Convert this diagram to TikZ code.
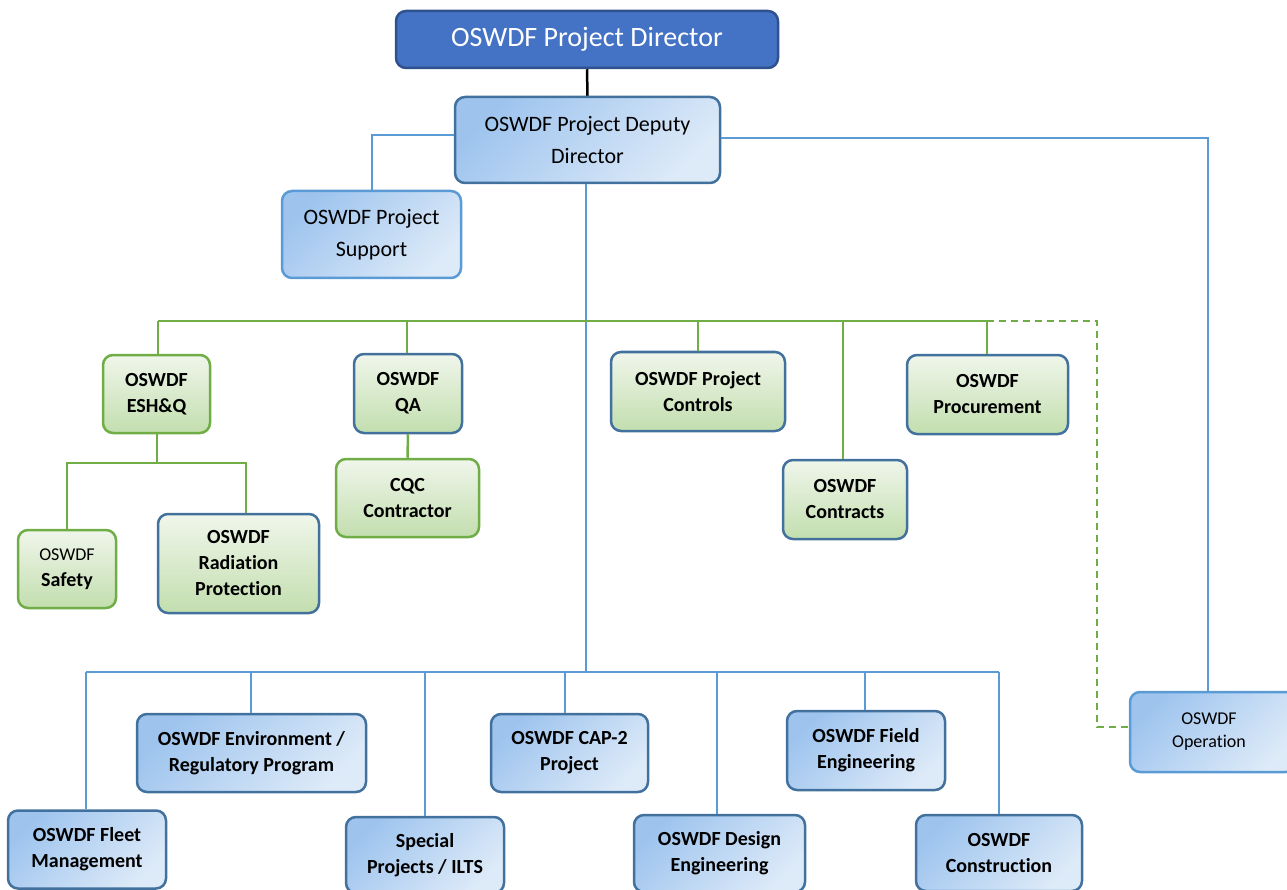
\documentclass[tikz,border=0pt]{standalone}
\usepackage{fontspec}
\setmainfont{Carlito}[Ligatures=NoCommon]
\definecolor{dirfill}{HTML}{4472C4}
\definecolor{dirline}{HTML}{2F528F}
\definecolor{bdark}{HTML}{41719C}
\definecolor{blight}{HTML}{5B9BD5}
\definecolor{bfillA}{HTML}{9EC4EE}
\definecolor{bfillB}{HTML}{DDEAF8}
\definecolor{gline}{HTML}{70AD47}
\definecolor{gfillA}{HTML}{F0F6EB}
\definecolor{gfillB}{HTML}{C2DEAE}
\tikzset{
  boxbase/.style={rounded corners=10pt, line width=2.5pt, align=center, inner sep=0pt, text=black,
    font=\bfseries\fontsize{20}{26}\selectfont},
  bluebox/.style={boxbase, draw=bdark, top color=bfillA, bottom color=bfillB, shading angle=45},
  lbluebox/.style={bluebox, draw=blight},
  greenbox/.style={boxbase, draw=gline, top color=gfillA, bottom color=gfillB},
  gbbox/.style={greenbox, draw=bdark},
  regtext/.style={font=\fontsize{22}{32}\selectfont},
  bl/.style={draw=blight, line width=2pt},
  gl/.style={draw=gline, line width=2.5pt},
}
\begin{document}
\begin{tikzpicture}[x=1pt,y=-1pt]
\useasboundingbox (0,0) rectangle (1287,890);
\clip (0,0) rectangle (1287,890);
% coordinates
\coordinate (gL) at (158,321);
\coordinate (gR) at (987,321);
\coordinate (dc) at (1097,321);
\coordinate (bL) at (86,672);
\coordinate (bR) at (999,672);
\coordinate (bM) at (586,672);
\coordinate (eb) at (157,463);
\coordinate (rc) at (1208,140);
% nodes
\node[boxbase, draw=dirline, fill=dirfill, text=white, font=\fontsize{28}{32}\selectfont,
  minimum width=382, minimum height=57] (dir) at (587,39.5) {OSWDF Project Director};
\node[bluebox, regtext, minimum width=265, minimum height=86] (dep) at (587.5,140) {OSWDF Project Deputy\\Director};
\node[lbluebox, regtext, minimum width=179, minimum height=87] (sup) at (371.5,234.5) {OSWDF Project\\Support};
\node[greenbox, minimum width=107, minimum height=78] (esh) at (156.5,394) {OSWDF\\ESH\&Q};
\node[gbbox, minimum width=108, minimum height=79] (qa) at (408,393.5) {OSWDF\\QA};
\node[greenbox, minimum width=143, minimum height=78] (cqc) at (407.5,498) {CQC\\Contractor};
\node[gbbox, minimum width=174, minimum height=79] (ctl) at (698,391.5) {OSWDF Project\\Controls};
\node[gbbox, minimum width=124, minimum height=79] (cnt) at (845,499.5) {OSWDF\\Contracts};
\node[gbbox, minimum width=161, minimum height=79] (prc) at (987.5,394.5) {OSWDF\\Procurement};
\node[greenbox, minimum width=98, minimum height=78] (saf) at (67,569) {{\mdseries\fontsize{18}{26}\selectfont OSWDF}\\Safety};
\node[gbbox, minimum width=161, minimum height=99] (rp) at (238.5,563.5) {OSWDF\\Radiation\\Protection};
\node[bluebox, minimum width=158, minimum height=78] (flt) at (87,849.5) {OSWDF Fleet\\Management};
\node[bluebox, minimum width=229, minimum height=78] (env) at (251.5,753) {OSWDF Environment /\\Regulatory Program};
\node[bluebox, minimum width=158, minimum height=76] (spc) at (425,855) {Special\\Projects / ILTS};
\node[bluebox, minimum width=157, minimum height=78] (cap) at (569.5,753) {OSWDF CAP-2\\Project};
\node[bluebox, minimum width=171, minimum height=77] (des) at (719.5,853.5) {OSWDF Design\\Engineering};
\node[bluebox, minimum width=158, minimum height=79] (fld) at (866,750.5) {OSWDF Field\\Engineering};
\node[bluebox, minimum width=166, minimum height=76] (con) at (999,853) {OSWDF\\Construction};
\node[lbluebox, font=\fontsize{18}{23}\selectfont, minimum width=166, minimum height=80] (ops) at (1213,732)
  {\hspace*{-8pt}OSWDF\\\hspace*{-8pt}Operation};
% connectors
\draw[line width=2.5pt, black] (dir.south) -- (dep.north);
\draw[bl] ([yshift=5pt]dep.west) -| (sup.north);
\draw[bl] ([yshift=2pt]dep.east) -| (rc |- ops.north);
\draw[bl] (dep.south -| bM) -- (bM);
\draw[gl] (gL) -- (gR);
\draw[gl] (esh.north -| gL) -- (gL);
\draw[gl] ([xshift=-1pt]qa.north) -- ([xshift=-1pt]qa.north |- gL);
\draw[gl] (ctl.north) -- (ctl.north |- gL);
\draw[gl] ([xshift=-2pt]cnt.north) -- ([xshift=-2pt]cnt.north |- gL);
\draw[gl] ([xshift=-0.5pt]prc.north) -- ([xshift=-0.5pt]prc.north |- gR);
\draw[gl, dashed, dash pattern=on 7pt off 5pt] (gR) -- (dc) |- ([yshift=5pt]ops.west);
\draw[gl] (esh.south -| eb) -- (eb);
\draw[gl] (saf.north) |- (eb) -| ([xshift=7.5pt]rp.north);
\draw[gl] (qa.south) -- (cqc.north);
\draw[bl] (bL) -- (bR);
\draw[bl] (flt.north -| bL) -- (bL);
\draw[bl] ([xshift=-0.5pt]env.north) -- ([xshift=-0.5pt]env.north |- bL);
\draw[bl] (spc.north) -- (spc.north |- bL);
\draw[bl] ([xshift=-4.5pt]cap.north) -- ([xshift=-4.5pt]cap.north |- bL);
\draw[bl] ([xshift=-2.5pt]des.north) -- ([xshift=-2.5pt]des.north |- bL);
\draw[bl] ([xshift=-1pt]fld.north) -- ([xshift=-1pt]fld.north |- bL);
\draw[bl] (con.north) -- (bR);
\end{tikzpicture}
\end{document}
